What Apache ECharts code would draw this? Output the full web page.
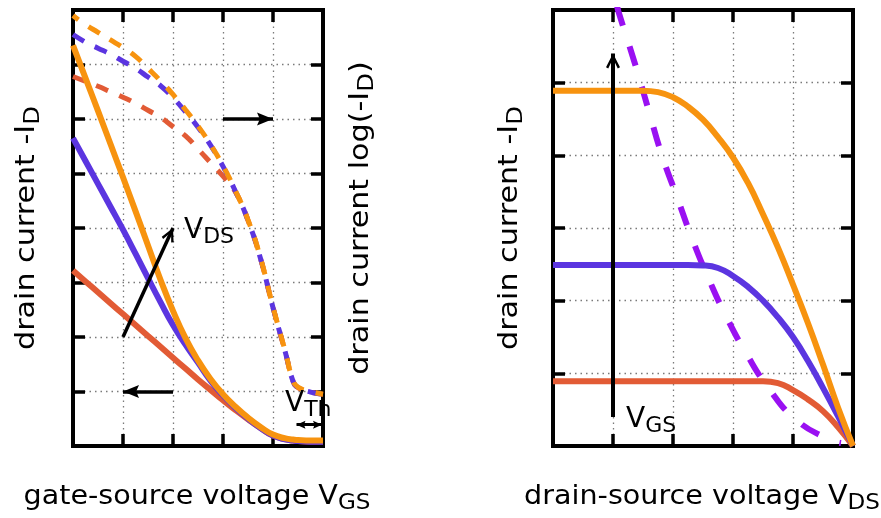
<!DOCTYPE html>
<html><head><meta charset="utf-8">
<script src="https://cdn.jsdelivr.net/npm/echarts@6.0.0/dist/echarts.min.js"></script>
<style>html,body{margin:0;padding:0;background:#fff}#c{width:881px;height:518px}</style>
</head><body><div id="c"></div>
<script>
// ---------- left panel: transfer characteristic ----------
const vgs = [0,0.25,0.5,0.75,1,1.25,1.5,1.75,2,2.25,2.5,2.75,3,3.25,3.5,3.75,4,4.25,4.4,4.5,4.75,5];
const idLinOrange = [7.35,6.75,6.15,5.54,4.93,4.31,3.68,3.05,2.48,1.98,1.57,1.23,0.95,0.72,0.52,0.35,0.21,0.14,0.12,0.11,0.1,0.1];
const idLinBlue   = [5.65,5.23,4.81,4.39,3.97,3.53,3.08,2.64,2.22,1.86,1.53,1.2,0.93,0.7,0.5,0.33,0.19,0.12,0.1,0.09,0.08,0.08];
const idLinRed    = [3.22,3.02,2.82,2.62,2.42,2.22,2.02,1.82,1.62,1.42,1.22,1.03,0.84,0.66,0.49,0.33,0.19,0.12,0.1,0.09,0.08,0.08];
const idLogOrange = [7.9,7.73,7.59,7.45,7.31,7.15,6.93,6.7,6.45,6.17,5.87,5.53,5.14,4.68,4.15,3.45,2.55,1.72,1.2,1.08,1.0,0.95];
const idLogBlue   = [7.55,7.41,7.3,7.19,7.06,6.93,6.77,6.61,6.39,6.13,5.85,5.52,5.13,4.67,4.14,3.44,2.54,1.71,1.19,1.07,0.99,0.95];
const idLogRed    = [6.78,6.69,6.6,6.5,6.4,6.29,6.16,6.03,5.86,5.69,5.45,5.2,4.95,4.66,4.14,3.44,2.54,1.71,1.19,1.07,0.99,0.95];

// ---------- right panel: output characteristic ----------
const vds = [0,0.5,1,1.5,1.75,2,2.25,2.5,2.75,3,3.25,3.5,3.75,4,4.25,4.5,4.75,5];
const idOutOrange = [4.89,4.89,4.89,4.89,4.87,4.8,4.67,4.49,4.25,3.97,3.62,3.19,2.73,2.22,1.69,1.12,0.53,0];
const idOutBlue   = [2.49,2.49,2.49,2.49,2.49,2.49,2.49,2.485,2.45,2.34,2.19,2.0,1.77,1.5,1.17,0.8,0.41,0];
const idOutRed    = [0.89,0.89,0.89,0.89,0.89,0.89,0.89,0.89,0.89,0.89,0.89,0.89,0.865,0.77,0.64,0.48,0.26,0];
const satVds = [1.07,1.09,1.37,1.59,1.82,2.07,2.32,2.59,2.9,3.23,3.59,4.04,4.57,4.8];
const satId  = [6.05,5.98,5.25,4.63,3.99,3.42,2.85,2.31,1.76,1.26,0.8,0.37,0.1,0.04];

// axes ranges
const leftX = [0,5,1], leftY = [0,8,1], rightX = [0,5,1], rightY = [0,6,1];

// annotation arrows (data coordinates)
const arrowVds = [[1,2],[2,4]];
const arrowLog = [[3,6],[4,6]];
const arrowLin = [[2,1],[1,1]];
const arrowVth = [[4.47,0.39],[4.98,0.39]];
const arrowVgs = [[1,0.4],[1,5.4]];

const C = {orange:'#F7930F', blue:'#5B35E0', red:'#E25B35', violet:'#9A10F2'};
const FONT = 'DejaVu Sans';

const openHead = 'path://M0,-11 L0.01,-11 L0,-10.99 Z M0,0 L-5,10 L-3.4,11 L0,3.6 L3.4,11 L5,10 Z';
const fillHead = 'path://M0,-14 L0.01,-14 L0,-13.99 Z M0,0 L-5,14 L0,11.5 L5,14 Z';

function zip(xs, ys){ return xs.map((x,i)=>[x, ys[i]]); }

function axis(grid, pos, r, split){
  return {
    type:'value', gridIndex:grid, position:pos, min:r[0], max:r[1], interval:r[2],
    axisLine:{show:true, onZero:false, lineStyle:{color:'#000', width:4, cap:'square'}},
    axisTick:{show:true, inside:true, length:12, lineStyle:{color:'#000', width:3.5}},
    axisLabel:{show:false},
    splitLine:{show:split, lineStyle:{color:'#7a7a7a', width:1.3, type:[1.5,4]}}
  };
}

function solid(name, xs, ys, color, xi, yi){
  return {type:'line', name, data:zip(xs,ys), xAxisIndex:xi, yAxisIndex:yi, showSymbol:false, symbol:'none',
    smooth:0.5, silent:true, lineStyle:{color, width:6, cap:'butt', join:'round'}, z:3};
}
function dashed(name, xs, ys, color, xi, yi, dash, off, w){
  return {type:'line', name, data:zip(xs,ys), xAxisIndex:xi, yAxisIndex:yi, showSymbol:false, symbol:'none',
    smooth:0.5, silent:true, lineStyle:{color, width:w, type:dash, dashOffset:off, cap:'butt'}, z:3};
}
function arrow(a, startSym, endSym, size, width){
  return [{coord:a[0], symbol:startSym, symbolSize:size, lineStyle:{width}}, {coord:a[1], symbol:endSym, symbolSize:size}];
}

function rt(x, y, parts, size, subSize, rot, align, scale){
  let text = parts.map(p => p[1] ? '{s|'+p[0]+'}' : '{m|'+p[0]+'}').join('');
  const el = {type:'text', x, y, rotation:rot||0, silent:true, z:10,
    style:{text, align:align||'center', verticalAlign:'middle', textAlign:align||'center', textVerticalAlign:'middle',
      rich:{
        m:{fontSize:size, fontFamily:FONT, fill:'#000'},
        s:{fontSize:subSize, fontFamily:FONT, fill:'#000', padding:[Math.round(subSize*0.6),0,0,0]}
      }}};
  if (scale) el.scaleX = scale;
  return el;
}

const chart = echarts.init(document.getElementById('c'), null, {renderer:'canvas'});
chart.setOption({
  animation:false,
  backgroundColor:'#fff',
  grid:[
    {left:73, top:10, width:250, height:436},
    {left:553, top:10, width:300, height:436}
  ],
  xAxis:[axis(0,'bottom',leftX,true), axis(0,'top',leftX,false),
         axis(1,'bottom',rightX,true), axis(1,'top',rightX,false)],
  yAxis:[axis(0,'left',leftY,true), axis(0,'right',leftY,false),
         axis(1,'left',rightY,true), axis(1,'right',rightY,false)],
  series:[
    dashed('log red', vgs, idLogRed, C.red, 0, 1, [13,12], 0, 5),
    dashed('log blue', vgs, idLogBlue, C.blue, 0, 1, [13,12], 0, 5),
    dashed('log orange', vgs, idLogOrange, C.orange, 0, 1, [13,12], 6, 5),
    solid('lin red', vgs, idLinRed, C.red, 0, 0),
    solid('lin blue', vgs, idLinBlue, C.blue, 0, 0),
    solid('lin orange', vgs, idLinOrange, C.orange, 0, 0),
    {type:'line', data:[], xAxisIndex:0, yAxisIndex:0, silent:true, z:5,
      markLine:{silent:true, animation:false, label:{show:false}, emphasis:{disabled:true},
        lineStyle:{color:'#000', width:3.5, type:'solid'},
        data:[
          arrow(arrowVds,'none',openHead,[13,28],3.5),
          arrow(arrowLog,'none',fillHead,[13,32],3.5),
          arrow(arrowLin,'none',fillHead,[13,32],3.5),
          arrow(arrowVth,fillHead,fillHead,[8,18],3)
        ]}},
    dashed('saturation', satVds, satId, C.violet, 2, 2, [20,22], 0, 6),
    solid('out red', vds, idOutRed, C.red, 2, 2),
    solid('out blue', vds, idOutBlue, C.blue, 2, 2),
    solid('out orange', vds, idOutOrange, C.orange, 2, 2),
    {type:'line', data:[], xAxisIndex:2, yAxisIndex:2, silent:true, z:5,
      markLine:{silent:true, animation:false, label:{show:false}, emphasis:{disabled:true},
        lineStyle:{color:'#000', width:4, type:'solid'},
        data:[ arrow(arrowVgs,'none',openHead,[14,30],4) ]}}
  ],
  graphic:[
    rt(197, 497, [['gate-source voltage V'],['GS',1]], 26, 21, 0, 'center', 1.1),
    rt(702, 497, [['drain-source voltage V'],['DS',1]], 26, 21, 0, 'center', 1.1),
    rt(27, 228, [['drain current -I'],['D',1]], 26, 21, Math.PI/2, 'center', 1.16),
    rt(361, 218, [['drain current log(-I'],['D',1],[')']], 26, 21, Math.PI/2, 'center', 1.16),
    rt(510, 228, [['drain current -I'],['D',1]], 26, 21, Math.PI/2, 'center', 1.16),
    rt(184, 231, [['V'],['DS',1]], 28, 22, 0, 'left'),
    rt(285, 404, [['V'],['Th',1]], 28, 22, 0, 'left'),
    rt(626, 420, [['V'],['GS',1]], 28, 22, 0, 'left')
  ]
});
</script></body></html>
